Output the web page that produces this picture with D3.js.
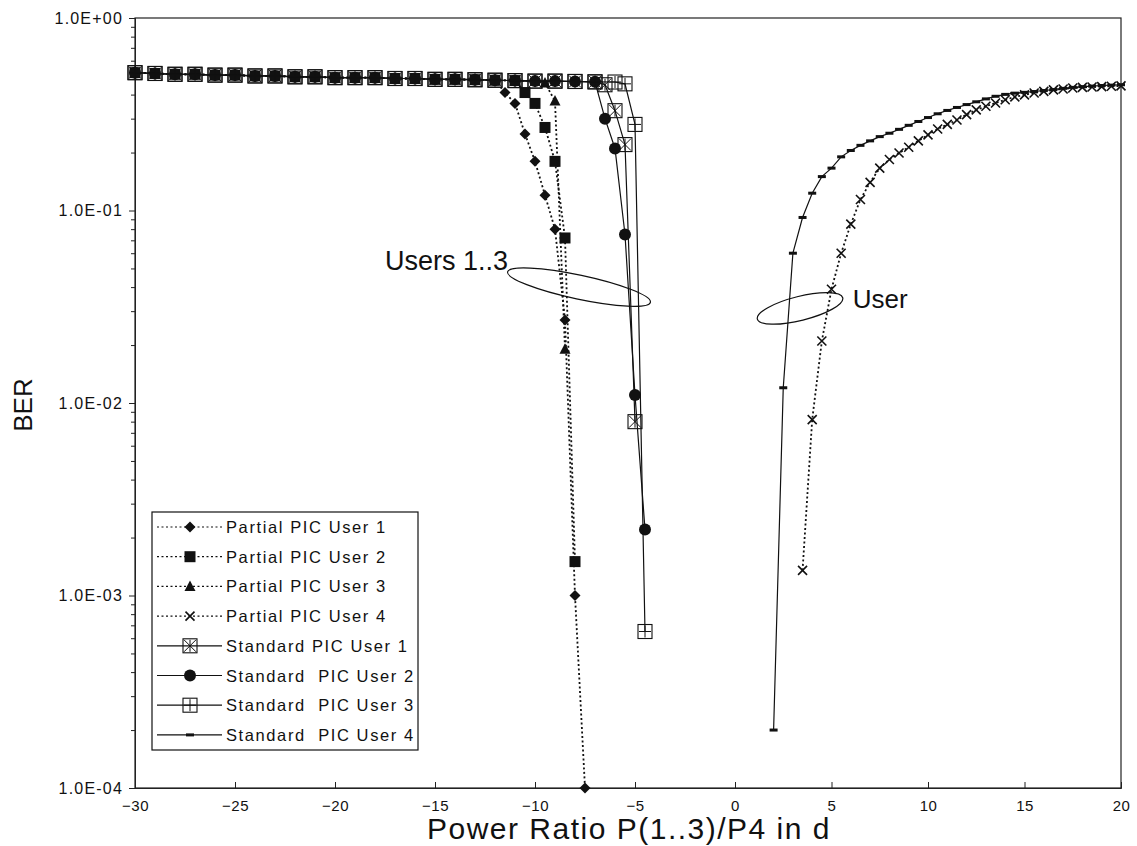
<!DOCTYPE html>
<html>
<head>
<meta charset="utf-8">
<script src="https://cdn.jsdelivr.net/npm/d3@7"></script>
<style>
  body { margin: 0; background: #fff; }
  svg { display: block; font-family: "Liberation Sans", Arial, sans-serif; }
</style>
</head>
<body>
<div id="chart"></div>
<script>
// values: BER against power ratio (dB)
const flatX = [-30, -29, -28, -27, -26, -25, -24, -23, -22, -21, -20, -19, -18,
               -17, -16, -15, -14, -13, -12, -11, -10, -9, -8, -7, -6];
const flatBER = [0.52, 0.515, 0.51, 0.51, 0.505, 0.505, 0.50, 0.50, 0.495, 0.495, 0.49, 0.49, 0.49,
                 0.485, 0.485, 0.48, 0.48, 0.478, 0.475, 0.473, 0.47, 0.47, 0.468, 0.466, 0.465];

const p1TailX = [-11.5, -11, -10.5, -10, -9.5, -9, -8.5, -8, -7.5];
const p1TailBER = [0.41, 0.36, 0.25, 0.18, 0.12, 0.08, 0.027, 0.001, 0.0001];
const p2TailX = [-10.5, -10, -9.5, -9, -8.5, -8];
const p2TailBER = [0.41, 0.36, 0.27, 0.18, 0.072, 0.0015];
const p3TailX = [-9.5, -9, -8.5];
const p3TailBER = [0.46, 0.37, 0.019];

const p4X = [3.5, 4, 4.5, 5, 5.5, 6, 6.5, 7, 7.5, 8, 8.5, 9, 9.5, 10, 10.5, 11, 11.5,
             12, 12.5, 13, 13.5, 14, 14.5, 15, 15.5, 16, 16.5, 17, 17.5, 18, 18.5, 19, 19.5, 20];
const p4BER = [0.00135, 0.0082, 0.021, 0.039, 0.060, 0.085, 0.114, 0.140, 0.166, 0.184, 0.199, 0.213, 0.230,
               0.247, 0.265, 0.280, 0.295, 0.315, 0.333, 0.348, 0.362, 0.376, 0.389, 0.399, 0.408,
               0.416, 0.423, 0.428, 0.433, 0.436, 0.438, 0.440, 0.442, 0.444];

const s1TailX = [-6.5, -6, -5.5, -5];
const s1TailBER = [0.45, 0.33, 0.22, 0.008];
const s2TailX = [-6.5, -6, -5.5, -5, -4.5];
const s2TailBER = [0.30, 0.21, 0.075, 0.011, 0.0022];
const s3TailX = [-5.5, -5, -4.5];
const s3TailBER = [0.455, 0.28, 0.00065];

const s4X = [2, 2.5, 3, 3.5, 4, 4.5, 5, 5.5, 6, 6.5, 7, 7.5, 8, 8.5, 9, 9.5, 10, 10.5, 11,
             11.5, 12, 12.5, 13, 13.5, 14, 14.5, 15, 15.5, 16, 16.5, 17, 17.5, 18, 18.5, 19, 19.5, 20];
const s4BER = [0.0002, 0.012, 0.06, 0.092, 0.123, 0.150, 0.166, 0.19, 0.205, 0.218, 0.23, 0.242, 0.252,
               0.264, 0.277, 0.29, 0.304, 0.318, 0.331, 0.343, 0.355, 0.367, 0.380, 0.392, 0.401,
               0.407, 0.411, 0.415, 0.420, 0.425, 0.431, 0.436, 0.440, 0.443, 0.446, 0.448, 0.450];

const xTicks = [-30, -25, -20, -15, -10, -5, 0, 5, 10, 15, 20];
const yTicks = [1e-4, 1e-3, 1e-2, 1e-1, 1];
const yTickLabels = ["1.0E-04", "1.0E-03", "1.0E-02", "1.0E-01", "1.0E+00"];

const legendLabels = ["Partial PIC User 1", "Partial PIC User 2", "Partial PIC User 3", "Partial PIC User 4",
                      "Standard PIC User 1", "Standard  PIC User 2", "Standard  PIC User 3", "Standard  PIC User 4"];

function zip(xs, ys) { return xs.map((v, i) => [v, ys[i]]); }

// series = flat part (sliced where it leaves the plateau) + its tail
const series = [
  { pts: zip(flatX.slice(0, 19).concat(p1TailX), flatBER.slice(0, 19).concat(p1TailBER)), dotted: true, mk: "diamond" },
  { pts: zip(flatX.slice(0, 20).concat(p2TailX), flatBER.slice(0, 20).concat(p2TailBER)), dotted: true, mk: "square" },
  { pts: zip(flatX.slice(0, 21).concat(p3TailX), flatBER.slice(0, 21).concat(p3TailBER)), dotted: true, mk: "triangle" },
  { pts: zip(p4X, p4BER), dotted: true, mk: "times" },
  { pts: zip(flatX.slice(0, 24).concat(s1TailX), flatBER.slice(0, 24).concat(s1TailBER)), dotted: false, mk: "boxstar" },
  { pts: zip(flatX.slice(0, 24).concat(s2TailX), flatBER.slice(0, 24).concat(s2TailBER)), dotted: false, mk: "circle" },
  { pts: zip(flatX.slice(0, 25).concat(s3TailX), flatBER.slice(0, 25).concat(s3TailBER)), dotted: false, mk: "boxplus" },
  { pts: zip(s4X, s4BER), dotted: false, mk: "dash" }
];

const W = 1137, H = 846;
const svg = d3.select("#chart").append("svg").attr("width", W).attr("height", H);

// the scan is slightly stretched on the left half, so the x scale is piecewise
const x = d3.scaleLinear().domain([-30, 0, 20]).range([135, 735, 1121]);
const y = d3.scaleLog().domain([1e-4, 1]).range([788, 18]);

// frame
svg.append("rect")
  .attr("x", x(-30)).attr("y", y(1))
  .attr("width", x(20) - x(-30)).attr("height", y(1e-4) - y(1))
  .attr("fill", "none").attr("stroke", "#222").attr("stroke-width", 1.2);

// y axis, major + minor ticks
const yAxis = svg.append("g").attr("transform", `translate(${x(-30)},0)`)
  .call(d3.axisLeft(y).tickValues(yTicks).tickFormat((d, i) => yTickLabels[i]).tickSize(6).tickPadding(6));
yAxis.selectAll("text").attr("font-size", 16).attr("letter-spacing", 1.2).attr("fill", "#111")
  .attr("font-family", "Liberation Sans, Arial, sans-serif");
svg.append("g").attr("transform", `translate(${x(-30)},0)`)
  .call(d3.axisLeft(y).tickValues(y.ticks().filter(t => !yTicks.includes(t))).tickFormat("").tickSize(4));

// x axis, ticks pointing inward
const xAxis = svg.append("g").attr("transform", `translate(0,${y(1e-4)})`)
  .call(d3.axisBottom(x).tickValues(xTicks).tickSize(-6).tickPadding(12));
xAxis.selectAll("text").attr("font-size", 15).attr("letter-spacing", 0.5).attr("fill", "#111")
  .attr("font-family", "Liberation Sans, Arial, sans-serif");
svg.selectAll(".domain").attr("stroke", "#222");
svg.selectAll(".tick line").attr("stroke", "#222");

// axis titles
svg.append("text")
  .attr("x", 629).attr("y", 839)
  .attr("text-anchor", "middle").attr("font-size", 30).attr("letter-spacing", 1.5)
  .attr("fill", "#111")
  .text("Power Ratio P(1..3)/P4 in d");
svg.append("text")
  .attr("transform", "translate(32,405) rotate(-90)")
  .attr("text-anchor", "middle").attr("font-size", 26)
  .attr("fill", "#111")
  .text("BER");

function drawMarker(g, type, cx, cy) {
  const m = g.append("g").attr("transform", `translate(${cx},${cy})`);
  if (type === "diamond") {
    m.append("path").attr("d", "M0,-5.5L5.5,0L0,5.5L-5.5,0Z").attr("fill", "#111");
  } else if (type === "square") {
    m.append("rect").attr("x", -5.5).attr("y", -5.5).attr("width", 11).attr("height", 11).attr("fill", "#111");
  } else if (type === "triangle") {
    m.append("path").attr("d", "M0,-6L5.5,4.5L-5.5,4.5Z").attr("fill", "#111");
  } else if (type === "times") {
    m.append("path").attr("d", "M-4.5,-4.5L4.5,4.5M-4.5,4.5L4.5,-4.5")
      .attr("stroke", "#111").attr("stroke-width", 1.6).attr("fill", "none");
  } else if (type === "circle") {
    m.append("circle").attr("r", 6).attr("fill", "#111");
  } else if (type === "boxstar" || type === "boxplus") {
    m.append("rect").attr("x", -7).attr("y", -7).attr("width", 14).attr("height", 14)
      .attr("fill", "none").attr("stroke", "#111").attr("stroke-width", 1.1);
    const d = type === "boxstar"
      ? "M-6,-6L6,6M-6,6L6,-6M0,-6L0,6"
      : "M-6,0L6,0M0,-6L0,6";
    m.append("path").attr("d", d).attr("stroke", "#111").attr("stroke-width", 1).attr("fill", "none");
  } else if (type === "dash") {
    m.append("rect").attr("x", -4).attr("y", -1.5).attr("width", 8).attr("height", 3).attr("fill", "#111");
  }
}

const line = d3.line().x(d => x(d[0])).y(d => y(d[1]));
const plot = svg.append("g");

series.forEach(s => {
  plot.append("path")
    .datum(s.pts)
    .attr("fill", "none")
    .attr("stroke", "#111")
    .attr("stroke-width", s.dotted ? 1.8 : 1.2)
    .attr("stroke-dasharray", s.dotted ? "2,2.5" : null)
    .attr("d", line);
  const mg = plot.append("g");
  s.pts.forEach(p => drawMarker(mg, s.mk, x(p[0]), y(p[1])));
});

// annotations: ellipses and labels, placed in data units
const ann = svg.append("g");
ann.append("ellipse")
  .attr("transform", `translate(${x(-7.8)},${y(0.040)}) rotate(12)`)
  .attr("rx", 73).attr("ry", 12)
  .attr("fill", "none").attr("stroke", "#111").attr("stroke-width", 1.2);
ann.append("text")
  .attr("x", x(-11.35)).attr("y", y(0.049))
  .attr("text-anchor", "end").attr("font-size", 27).attr("fill", "#111")
  .text("Users 1..3");
ann.append("ellipse")
  .attr("transform", `translate(${x(3.37)},${y(0.031)}) rotate(-14)`)
  .attr("rx", 44).attr("ry", 12)
  .attr("fill", "none").attr("stroke", "#111").attr("stroke-width", 1.2);
ann.append("text")
  .attr("x", x(6.1)).attr("y", y(0.031))
  .attr("text-anchor", "start").attr("font-size", 26).attr("fill", "#111")
  .text("User");

// legend
const lg = svg.append("g");
lg.append("rect")
  .attr("x", 152).attr("y", 512).attr("width", 266).attr("height", 238)
  .attr("fill", "#fff").attr("stroke", "#111").attr("stroke-width", 1.2);
legendLabels.forEach((lab, i) => {
  const s = series[i];
  const cy = 527 + i * 29.7;
  lg.append("line")
    .attr("x1", 157).attr("x2", 222).attr("y1", cy).attr("y2", cy)
    .attr("stroke", "#111").attr("stroke-width", 1.2)
    .attr("stroke-dasharray", s.dotted ? "2,2.5" : null);
  drawMarker(lg, s.mk, 190, cy);
  lg.append("text")
    .attr("x", 226).attr("y", cy + 6)
    .attr("font-size", 16.5).attr("letter-spacing", 1.6).attr("fill", "#111")
    .style("white-space", "pre")
    .text(lab);
});
</script>
</body>
</html>
